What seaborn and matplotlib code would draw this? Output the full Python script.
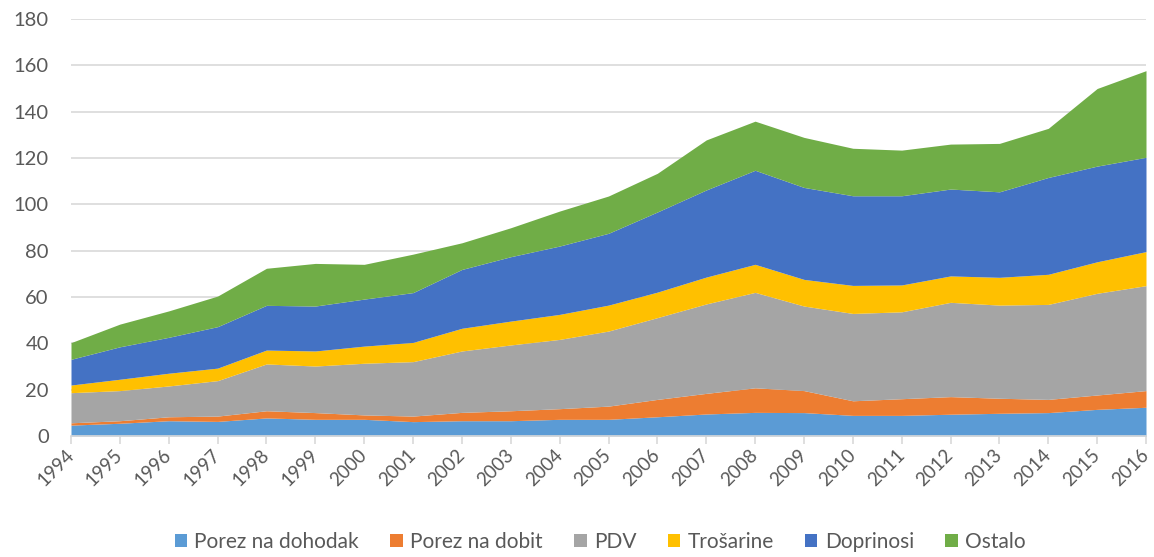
import matplotlib
matplotlib.use("Agg")
import matplotlib.pyplot as plt
import seaborn as sns
import numpy as np
import pandas as pd

years = list(range(1994, 2017))
series_names = ["Porez na dohodak", "Porez na dobit", "PDV", "Trošarine", "Doprinosi", "Ostalo"]
porez_dohodak = [4.7, 5.5, 6.6, 6.3, 7.8, 7.2, 7.2, 6.2, 6.6, 6.6, 7.2, 7.2, 8.3, 9.5, 10.2, 10.1, 8.9, 8.9, 9.4, 9.8, 10.1, 11.5, 12.4]
porez_dobit = [1.0, 1.1, 1.7, 2.3, 3.1, 2.9, 1.9, 2.4, 3.6, 4.3, 4.6, 5.7, 7.5, 8.9, 10.6, 9.5, 6.3, 7.2, 7.6, 6.5, 5.7, 6.2, 7.2]
pdv = [13.0, 13.0, 13.3, 15.3, 20.2, 20.1, 22.3, 23.5, 26.5, 28.4, 29.9, 32.4, 35.3, 38.6, 41.2, 36.5, 37.7, 37.5, 40.7, 40.2, 41.0, 43.9, 45.3]
trosarine = [3.3, 4.9, 5.5, 5.4, 6.0, 6.5, 7.4, 8.3, 9.8, 10.3, 10.8, 11.2, 11.0, 11.6, 12.1, 11.5, 12.1, 11.6, 11.4, 12.0, 13.0, 13.6, 14.7]
doprinosi = [11.1, 14.0, 15.5, 17.9, 19.3, 19.4, 20.3, 21.5, 25.4, 27.8, 29.5, 31.0, 34.6, 37.6, 40.6, 39.7, 38.7, 38.5, 37.5, 36.9, 41.8, 41.3, 40.7]
ostalo = [7.2, 9.8, 11.4, 13.2, 16.0, 18.4, 15.0, 16.6, 11.5, 12.5, 15.1, 16.1, 16.7, 21.6, 21.2, 21.6, 20.5, 19.7, 19.4, 20.9, 21.2, 33.5, 37.4]
colors = ["#5B9BD5", "#ED7D31", "#A5A5A5", "#FFC000", "#4472C4", "#70AD47"]

df = pd.DataFrame({"year": years, series_names[0]: porez_dohodak, series_names[1]: porez_dobit,
                   series_names[2]: pdv, series_names[3]: trosarine,
                   series_names[4]: doprinosi, series_names[5]: ostalo})

sns.set_theme(style="white")
plt.rcParams['font.family'] = ['Lato', 'DejaVu Sans']

fig = plt.figure(figsize=(11.54, 5.57), dpi=100)
ax = fig.add_axes([71/1154, 1 - 436/557, (1146 - 71)/1154, (436 - 19)/557])

ax.stackplot(df["year"], [df[n] for n in series_names], labels=series_names, colors=colors, linewidth=0)

ax.set_xlim(1994, 2016)
ax.set_ylim(0, 180)
ax.set_yticks(range(0, 181, 20))
ax.set_xticks(years)
ax.set_xticklabels([str(y) for y in years], rotation=45, ha="right", va="center", rotation_mode="anchor")
ax.yaxis.grid(True, color="#D9D9D9", linewidth=1.2)
ax.set_axisbelow(True)
for s in ["top", "right", "left"]:
    ax.spines[s].set_visible(False)
ax.spines["bottom"].set_color("#D9D9D9")
ax.spines["bottom"].set_linewidth(1.2)
ax.tick_params(axis="x", bottom=True, length=6, color="#D9D9D9", width=1.2, labelsize=13.5, labelcolor="#595959", pad=6)
ax.tick_params(axis="y", left=False, length=0, labelsize=14.5, labelcolor="#595959", pad=16)
ax.set_xlabel("")
ax.set_ylabel("")

handles, labels = ax.get_legend_handles_labels()
fig.legend(handles, labels, loc="lower center", bbox_to_anchor=(0.52, -0.025), ncol=6, frameon=False,
           fontsize=15, handlelength=0.6, handleheight=0.6, handletextpad=0.35, columnspacing=1.5,
           labelcolor="#595959")

fig.savefig("out.png", dpi=100)
